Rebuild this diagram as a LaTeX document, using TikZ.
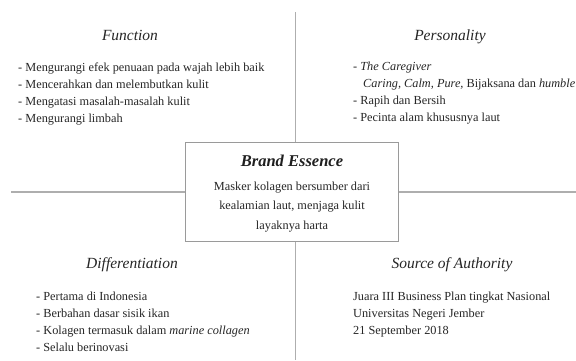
\documentclass[tikz,border=0pt]{standalone}
\usepackage{fontspec}
\setmainfont{Liberation Serif}
\definecolor{txt}{HTML}{262626}
\definecolor{rule}{HTML}{AEAEAE}
\definecolor{boxline}{HTML}{9A9A9A}
\begin{document}
\begin{tikzpicture}[x=1pt,y=-1pt,
  head/.style={font=\fontsize{15.5}{18}\selectfont\itshape, text=txt, inner sep=0pt, anchor=base},
  item/.style={font=\fontsize{12.3}{14}\selectfont, text=txt, inner sep=0pt, anchor=base west},
  mid/.style={font=\fontsize{12.3}{14}\selectfont, text=txt, inner sep=0pt, anchor=base},
  divider/.style={draw=rule, line width=1.4pt}]
\useasboundingbox (0,0) rectangle (576,360);
\fill[white] (0,0) rectangle (576,360);
% dividers
\coordinate (vtop) at (295.5,12);
\coordinate (vbot) at (295.5,360);
\coordinate (hleft) at (11,192);
\coordinate (hright) at (576,192);
\draw[divider] (vtop) -- (vbot);
\draw[divider] (hleft) -- (hright);
% central box
\node[draw=boxline, line width=1pt, fill=white, minimum width=213pt, minimum height=99pt, inner sep=0pt] (essence) at (291.5,191.5) {};
\node[font=\fontsize{16.5}{18}\selectfont\bfseries\itshape, text=black!88, inner sep=0pt, anchor=base] (eh) at (292,166) {Brand Essence};
\node[mid] (e1) at (292,190) {Masker kolagen bersumber dari};
\node[mid] (e2) at (292,209.5) {kealamian laut, menjaga kulit};
\node[mid] (e3) at (292,229) {layaknya harta};
% Function
\node[head] (fh) at (130,40) {Function};
\node[item] (f1) at (18,71) {- Mengurangi efek penuaan pada wajah lebih baik};
\node[item] (f2) at (18,88.2) {- Mencerahkan dan melembutkan kulit};
\node[item] (f3) at (18,105.4) {- Mengatasi masalah-masalah kulit};
\node[item] (f4) at (18,122.6) {- Mengurangi limbah};
% Personality
\node[head] (ph) at (450,40) {Personality};
\node[item] (p1) at (353,70.5) {- \textit{The Caregiver}};
\node[item] (p2) at (363,87.5) {\textit{Caring, Calm, Pure,} Bijaksana dan \textit{humble}};
\node[item] (p3) at (353,104.5) {- Rapih dan Bersih};
\node[item] (p4) at (353,121.5) {- Pecinta alam khususnya laut};
% Differentiation
\node[head] (dh) at (132,268) {Differentiation};
\node[item] (d1) at (36,300) {- Pertama di Indonesia};
\node[item] (d2) at (36,317.2) {- Berbahan dasar sisik ikan};
\node[item] (d3) at (36,334.4) {- Kolagen termasuk dalam \textit{marine collagen}};
\node[item] (d4) at (36,351.6) {- Selalu berinovasi};
% Source of Authority
\node[head] (sh) at (452,268) {Source of Authority};
\node[item] (s1) at (353,300) {Juara III Business Plan tingkat Nasional};
\node[item] (s2) at (353,317.2) {Universitas Negeri Jember};
\node[item] (s3) at (353,334.4) {21 September 2018};
\end{tikzpicture}
\end{document}
